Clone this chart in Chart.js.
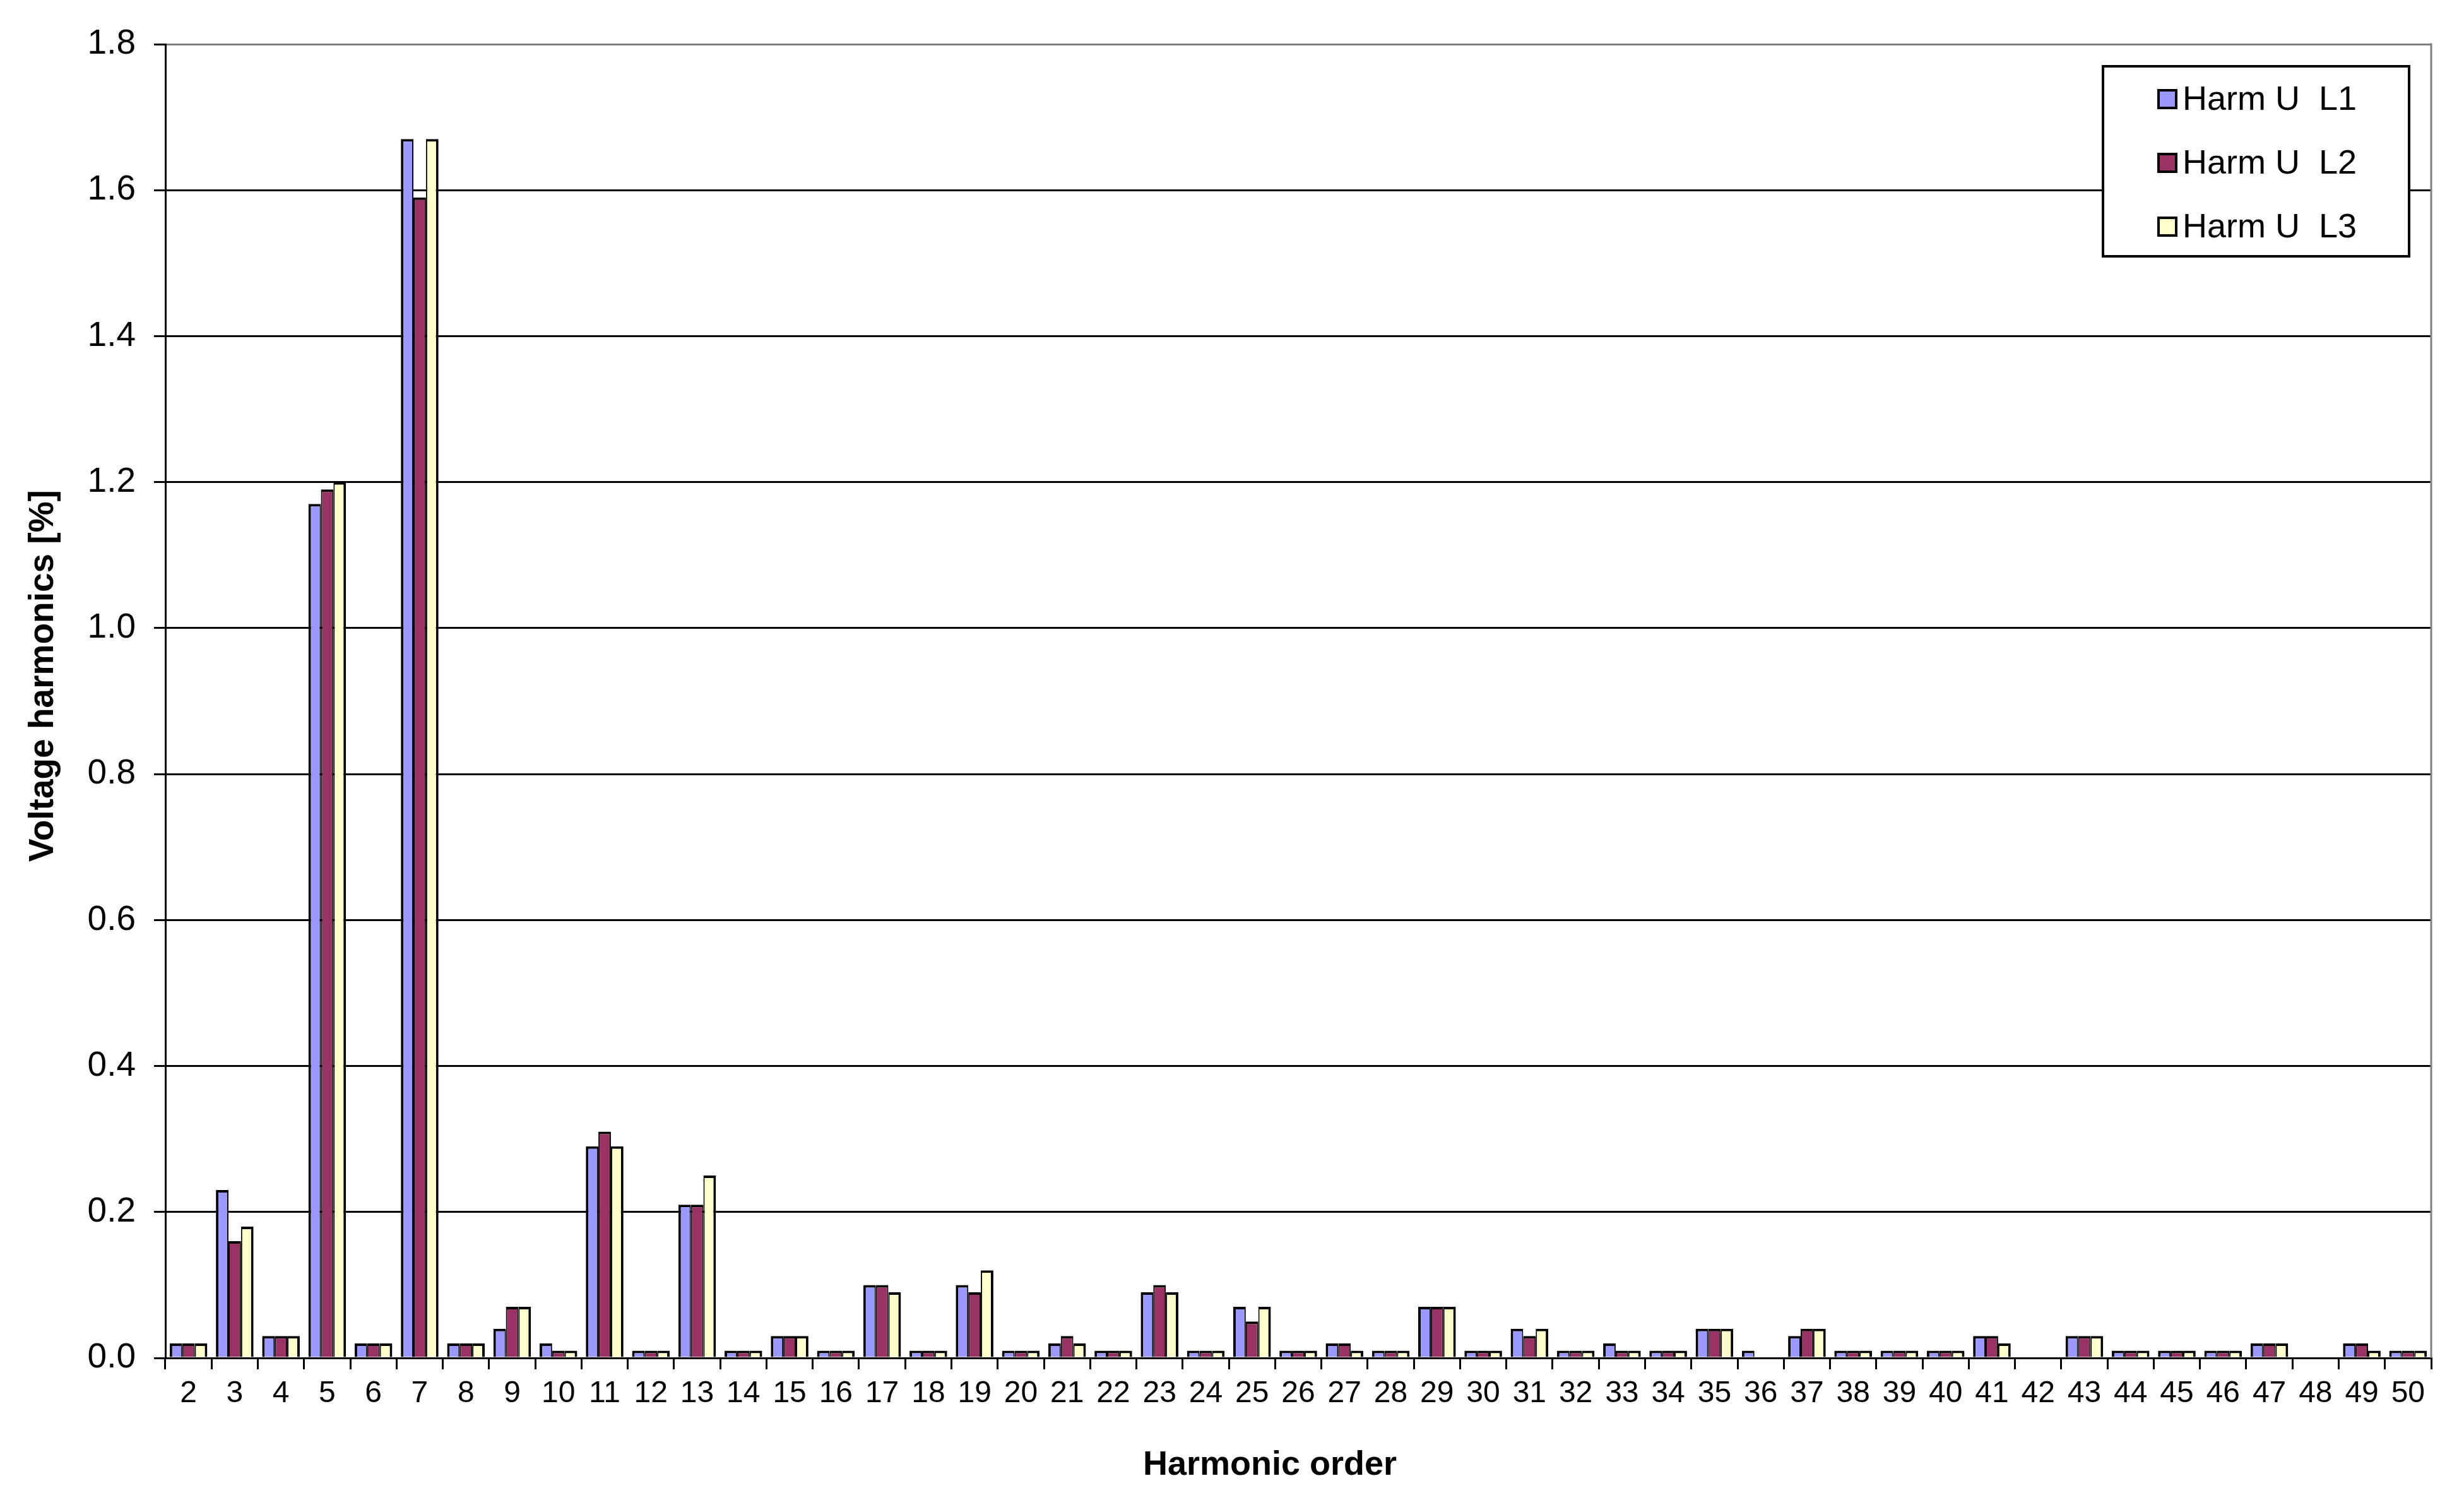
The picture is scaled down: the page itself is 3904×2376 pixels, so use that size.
<!DOCTYPE html>
<html>
<head>
<meta charset="utf-8">
<style>
  html, body { margin: 0; padding: 0; background: #ffffff; }
  #wrap { width: 3904px; height: 2376px; }
  canvas { display: block; }
</style>
<script src="https://cdn.jsdelivr.net/npm/chart.js@4/dist/chart.umd.min.js"></script>
</head>
<body>
<div id="wrap"><canvas id="c" width="3904" height="2376"></canvas></div>
<script>
// ---- data ----
const harmonicOrders = ['2','3','4','5','6','7','8','9','10','11','12','13','14','15','16','17','18','19','20','21','22','23','24','25','26','27','28','29','30','31','32','33','34','35','36','37','38','39','40','41','42','43','44','45','46','47','48','49','50'];
const seriesNames = ['Harm U  L1', 'Harm U  L2', 'Harm U  L3'];
const harmL1 = [0.02,0.23,0.03,1.17,0.02,1.67,0.02,0.04,0.02,0.29,0.01,0.21,0.01,0.03,0.01,0.10,0.01,0.10,0.01,0.02,0.01,0.09,0.01,0.07,0.01,0.02,0.01,0.07,0.01,0.04,0.01,0.02,0.01,0.04,0.01,0.03,0.01,0.01,0.01,0.03,0,0.03,0.01,0.01,0.01,0.02,0,0.02,0.01];
const harmL2 = [0.02,0.16,0.03,1.19,0.02,1.59,0.02,0.07,0.01,0.31,0.01,0.21,0.01,0.03,0.01,0.10,0.01,0.09,0.01,0.03,0.01,0.10,0.01,0.05,0.01,0.02,0.01,0.07,0.01,0.03,0.01,0.01,0.01,0.04,0,0.04,0.01,0.01,0.01,0.03,0,0.03,0.01,0.01,0.01,0.02,0,0.02,0.01];
const harmL3 = [0.02,0.18,0.03,1.20,0.02,1.67,0.02,0.07,0.01,0.29,0.01,0.25,0.01,0.03,0.01,0.09,0.01,0.12,0.01,0.02,0.01,0.09,0.01,0.07,0.01,0.01,0.01,0.07,0.01,0.04,0.01,0.01,0.01,0.04,0,0.04,0.01,0.01,0.01,0.02,0,0.03,0.01,0.01,0.01,0.02,0,0.01,0.01];
const yTickValues = [0, 0.2, 0.4, 0.6, 0.8, 1.0, 1.2, 1.4, 1.6, 1.8];

// ---- styles ----
const FONT = "'Liberation Sans', Arial, sans-serif";
const seriesColors = ['#9999FF', '#993366', '#FFFFCC'];
const seriesBorders = [
  {top: 4, left: 4, right: 2, bottom: 0},
  {top: 4, left: 2, right: 2, bottom: 0},
  {top: 4, left: 2, right: 4, bottom: 0}
];
const seriesData = [harmL1, harmL2, harmL3];
const titleNudge = { x: { dx: -45, dy: 0 }, y: { dx: 0, dy: -40 } };

const framePlugin = {
  id: 'frameAndLegend',
  afterLayout(chart) {
    Object.keys(titleNudge).forEach(id => {
      const s = chart.scales[id];
      if (!s || s._titleNudged) return;
      const orig = s.drawTitle.bind(s);
      s.drawTitle = function () {
        const ctx = this.ctx;
        ctx.save();
        ctx.translate(titleNudge[id].dx, titleNudge[id].dy);
        orig();
        ctx.restore();
      };
      s._titleNudged = true;
    });
  },
  beforeDatasetsDraw(chart) {
    const a = chart.chartArea, ctx = chart.ctx;
    ctx.save();
    ctx.strokeStyle = '#808080';
    ctx.lineWidth = 3;
    ctx.beginPath();
    ctx.moveTo(a.right, a.top - 1.5);
    ctx.lineTo(a.right, a.bottom);
    ctx.stroke();
    ctx.restore();
  },
  afterDraw(chart) {
    const a = chart.chartArea, ctx = chart.ctx;
    const boxW = 485, boxH = 301;
    const boxL = a.right - 35 - boxW, boxT = a.top + 35;
    ctx.save();
    ctx.fillStyle = '#ffffff';
    ctx.fillRect(boxL, boxT, boxW, boxH);
    ctx.strokeStyle = '#000000';
    ctx.lineWidth = 4;
    ctx.strokeRect(boxL, boxT, boxW, boxH);
    ctx.font = '54px ' + FONT;
    ctx.textBaseline = 'middle';
    ctx.textAlign = 'left';
    chart.data.datasets.forEach((ds, i) => {
      const cy = boxT + 52 + i * 101;
      const sx = boxL + 88, s = 28;
      ctx.fillStyle = ds.backgroundColor;
      ctx.fillRect(sx, cy - s / 2, s, s);
      ctx.lineWidth = 4;
      ctx.strokeStyle = '#000000';
      ctx.strokeRect(sx, cy - s / 2, s, s);
      ctx.fillStyle = '#000000';
      ctx.fillText(ds.label, boxL + 126, cy + 2);
    });
    ctx.restore();
  }
};

new Chart(document.getElementById('c'), {
  type: 'bar',
  data: {
    labels: harmonicOrders,
    datasets: seriesNames.map((name, i) => ({
      label: name,
      data: seriesData[i],
      backgroundColor: seriesColors[i],
      borderColor: '#000000',
      borderWidth: seriesBorders[i],
      borderSkipped: 'start',
      inflateAmount: 0,
      categoryPercentage: 0.813,
      barPercentage: 1.0
    }))
  },
  options: {
    responsive: false,
    animation: false,
    devicePixelRatio: 1,
    layout: { padding: { top: 70, right: 52, bottom: 0, left: 0 } },
    plugins: {
      legend: { display: false },
      tooltip: { enabled: false }
    },
    scales: {
      x: {
        offset: true,
        grid: { offset: true, drawOnChartArea: false, drawTicks: true, tickLength: 18, color: '#000000', lineWidth: 3 },
        border: { color: '#000000', width: 3 },
        ticks: { font: { family: FONT, size: 48 }, color: '#000000', padding: 10, maxRotation: 0, minRotation: 0, autoSkip: false },
        title: { display: true, text: 'Harmonic order', font: { family: FONT, size: 54, weight: 'bold' }, color: '#000000', padding: { top: 0, bottom: 22 } },
        afterFit: s => { s.height = 225; }
      },
      y: {
        min: 0,
        max: 1.8,
        afterBuildTicks: s => { s.ticks = yTickValues.map(v => ({ value: v })); },
        ticks: { callback: v => Number(v).toFixed(1), font: { family: FONT, size: 55 }, color: '#000000', padding: 29 },
        grid: {
          color: ctx => (ctx.tick && ctx.tick.value >= 1.79) ? '#808080' : '#000000',
          lineWidth: 3, tickLength: 18, tickColor: '#000000', tickWidth: 3
        },
        border: { color: '#000000', width: 3 },
        title: { display: true, text: 'Voltage harmonics [%]', font: { family: FONT, size: 55, weight: 'bold' }, color: '#000000', padding: { top: 36, bottom: 0 } },
        afterFit: s => { s.width = 262; }
      }
    }
  },
  plugins: [framePlugin]
});
</script>
</body>
</html>
